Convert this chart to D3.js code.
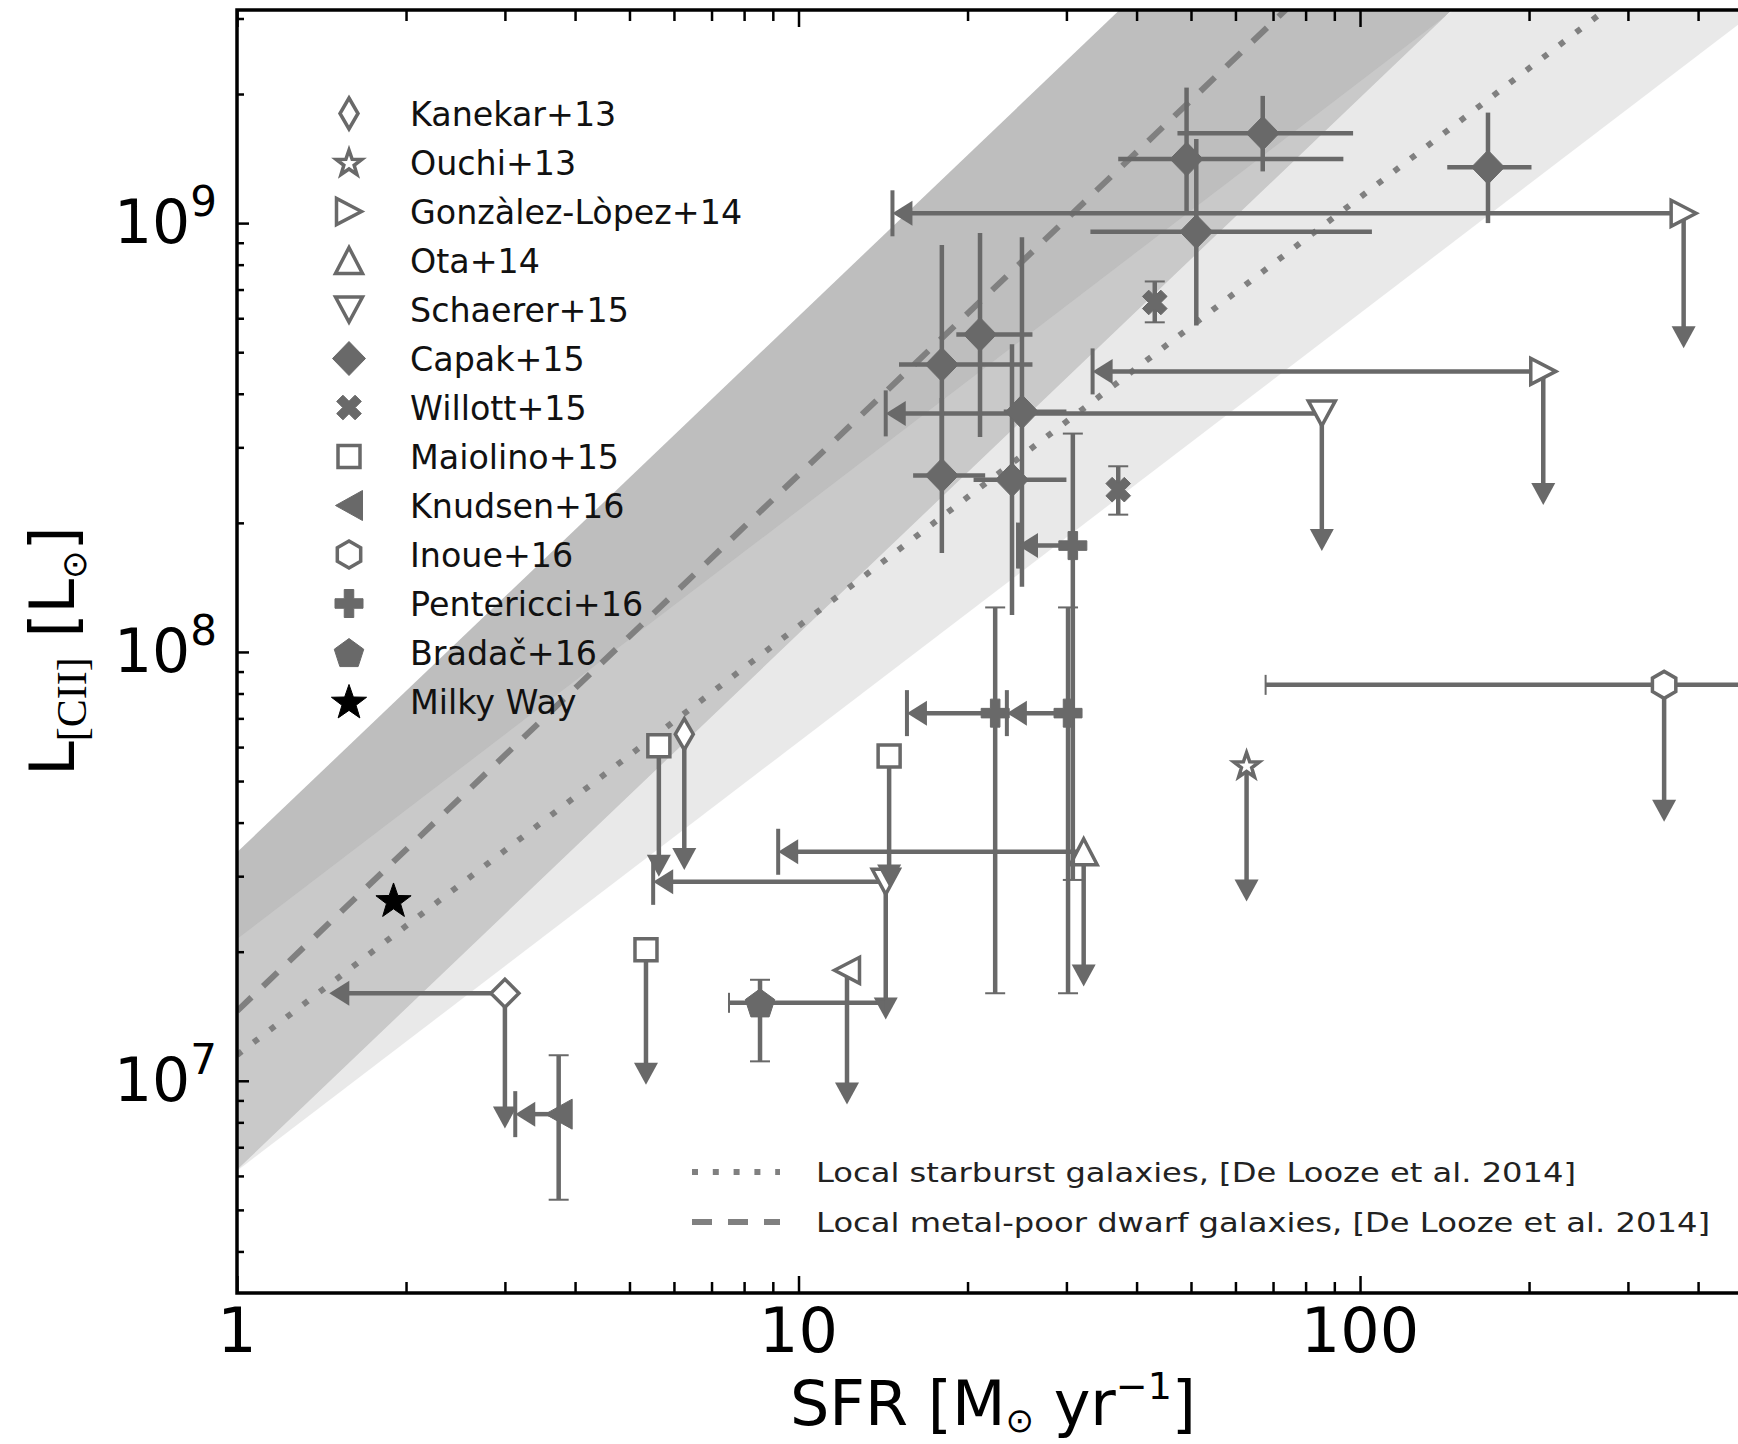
<!DOCTYPE html>
<html>
<head>
<meta charset="utf-8">
<script src="https://cdn.jsdelivr.net/npm/d3@7"></script>
<style>
body { margin: 0; background: #fff; }
svg { display: block; }
text { font-family: "DejaVu Sans", sans-serif; }
</style>
</head>
<body>
<div id="chart"></div>
<script>
var WIDTH = 1738;
var HEIGHT = 1444;
var LEFT = 237, RIGHT = 1752.5, TOP = 10, BOTTOM = 1293;
var GREY = "#696969";
var LINE_GREY = "#808080";

// axis ranges and tick labels
var X_DOMAIN = [1, 500];
var Y_DOMAIN = [3.2e6, 3.14e9];
var X_LABELS = [1, 10, 100];
var Y_EXPONENTS = [7, 8, 9];

// De Looze et al. 2014 relations, values at SFR = 1 and SFR = 500
var relationSfr = [1, 500];
var dwarfLine = [1.454e7, 3.44e10];
var dwarfUpper = [3.41e7, 8.05e10];
var dwarfLower = [6.20e6, 1.466e10];
var starburstLine = [1.148e7, 5.74e9];
var starburstUpper = [2.14e7, 1.07e10];
var starburstLower = [6.17e6, 3.08e9];

// data points (sfr in Msun/yr, L in Lsun); *Lim = upper limit arrow end
var kanekar13 = [
	{sfr: 3.00, L: 1.60e7, sfrLim: 1.46, lLim: 7.74e6},
	{sfr: 6.26, L: 6.43e7, lLim: 3.10e7}
];
var ouchi13 = [
	{sfr: 62.8, L: 5.45e7, lLim: 2.62e7}
];
var gonzalez14 = [
	{sfr: 377, L: 1.054e9, sfrLim: 14.7, lLim: 5.11e8},
	{sfr: 212, L: 4.51e8, sfrLim: 33.4, lLim: 2.20e8}
];
var ota14 = [
	{sfr: 32.2, L: 3.42e7, sfrLim: 9.2, lLim: 1.66e7}
];
var schaerer15 = [
	{sfr: 14.3, L: 2.91e7, sfrLim: 5.51, lLim: 1.39e7},
	{sfr: 85.5, L: 3.60e8, sfrLim: 14.3, lLim: 1.72e8}
];
var capak15 = [
	{sfr: 18.0, L: 4.68e8, sfrLo: 15.1, sfrHi: 26.1, lLo: 2.46e8, lHi: 8.89e8},
	{sfr: 21.05, L: 5.50e8, sfrLo: 19.1, sfrHi: 26.1, lLo: 3.17e8, lHi: 9.48e8},
	{sfr: 25.0, L: 3.63e8, sfrLo: 23.2, sfrHi: 30.0, lLo: 1.42e8, lHi: 9.27e8},
	{sfr: 18.0, L: 2.58e8, sfrLo: 16.0, sfrHi: 21.5, lLo: 1.70e8, lHi: 3.91e8},
	{sfr: 24.0, L: 2.52e8, sfrLo: 20.5, sfrHi: 30.0, lLo: 1.22e8, lHi: 5.22e8},
	{sfr: 49.1, L: 1.41e9, sfrLo: 37.1, sfrHi: 93.4, lLo: 1.05e9, lHi: 2.07e9},
	{sfr: 51.1, L: 9.55e8, sfrLo: 33.1, sfrHi: 105, lLo: 5.77e8, lHi: 1.57e9},
	{sfr: 67.1, L: 1.62e9, sfrLo: 47.3, sfrHi: 97.2, lLo: 1.32e9, lHi: 1.98e9},
	{sfr: 169, L: 1.35e9, sfrLo: 143, sfrHi: 202, lLo: 1.00e9, lHi: 1.81e9}
];
var willott15 = [
	{sfr: 43.1, L: 6.53e8, lLo: 5.87e8, lHi: 7.31e8},
	{sfr: 37.1, L: 2.39e8, lLo: 2.09e8, lHi: 2.71e8}
];
var maiolino15 = [
	{sfr: 5.64, L: 6.04e7, lLim: 2.99e7},
	{sfr: 14.5, L: 5.72e7, lLim: 2.84e7},
	{sfr: 5.35, L: 2.02e7, lLim: 9.79e6}
];
var knudsen16 = [
	{sfr: 3.74, L: 8.36e6, sfrLim: 3.13, lLo: 5.28e6, lHi: 1.147e7},
	{sfr: 12.2, L: 1.81e7, lLim: 8.8e6}
];
var inoue16 = [
	{sfr: 348, L: 8.38e7, sfrLo: 67.9, sfrHi: 1800, lLim: 4.02e7}
];
var pentericci16 = [
	{sfr: 30.2, L: 7.2e7, sfrLim: 23.5, lLo: 1.60e7, lHi: 1.27e8},
	{sfr: 22.4, L: 7.2e7, sfrLim: 15.6, lLo: 1.60e7, lHi: 1.27e8},
	{sfr: 30.8, L: 1.77e8, sfrLim: 24.6, lLo: 2.94e7, lHi: 3.23e8}
];
var bradac16 = [
	{sfr: 8.54, L: 1.52e7, sfrLo: 7.52, sfrHi: 14.3, lLo: 1.11e7, lHi: 1.72e7}
];
var milkyWay = [
	{sfr: 1.9, L: 2.64e7}
];

var surveyNames = ["Kanekar+13", "Ouchi+13", "Gonzàlez-Lòpez+14", "Ota+14", "Schaerer+15", "Capak+15",
	"Willott+15", "Maiolino+15", "Knudsen+16", "Inoue+16", "Pentericci+16", "Bradač+16", "Milky Way"];
var surveyData = [kanekar13, ouchi13, gonzalez14, ota14, schaerer15, capak15,
	willott15, maiolino15, knudsen16, inoue16, pentericci16, bradac16, milkyWay];

var styles = {
	"Kanekar+13": {shape: "d", w: 18, h: 31, fill: "white", variants: [{shape: "D", w: 28, h: 28}]},
	"Ouchi+13": {shape: "*", w: 27, h: 27, fill: "white"},
	"Gonzàlez-Lòpez+14": {shape: ">", w: 25, h: 26, fill: "white", limitBar: true},
	"Ota+14": {shape: "^", w: 27, h: 26, fill: "white", limitBar: true},
	"Schaerer+15": {shape: "v", w: 27, h: 25, fill: "white", limitBar: true},
	"Capak+15": {shape: "D", w: 33, h: 34, fill: GREY},
	"Willott+15": {shape: "X", w: 26, h: 26, fill: GREY, caps: true},
	"Maiolino+15": {shape: "s", w: 22, h: 22, fill: "white"},
	"Knudsen+16": {shape: "<", w: 27, h: 30, fill: GREY, caps: true, limitBar: true,
		variants: [null, {shape: "<", w: 25, h: 26, fill: "white"}]},
	"Inoue+16": {shape: "h", w: 27, h: 27, fill: "white", caps: true},
	"Pentericci+16": {shape: "P", w: 28, h: 28, fill: GREY, caps: true, limitBar: true},
	"Bradač+16": {shape: "p", w: 31, h: 31, fill: GREY, caps: true},
	"Milky Way": {shape: "*", w: 37, h: 37, fill: "black", stroke: "black"}
};

var x = d3.scaleLog().domain(X_DOMAIN).range([LEFT, RIGHT]);
var y = d3.scaleLog().domain(Y_DOMAIN).range([BOTTOM, TOP]);

var svg = d3.select("#chart").append("svg")
	.attr("width", WIDTH)
	.attr("height", HEIGHT);

svg.append("defs").append("clipPath").attr("id", "plotClip")
	.append("rect")
	.attr("x", LEFT).attr("y", TOP)
	.attr("width", RIGHT - LEFT).attr("height", BOTTOM - TOP);

var plot = svg.append("g").attr("clip-path", "url(#plotClip)");

function band(upper, lower) {
	var pts = [];
	for (var i = 0; i < relationSfr.length; i++) pts.push([x(relationSfr[i]), y(upper[i])]);
	for (var i = relationSfr.length - 1; i >= 0; i--) pts.push([x(relationSfr[i]), y(lower[i])]);
	return "M" + pts.join("L") + "Z";
}

plot.append("path").attr("d", band(dwarfUpper, dwarfLower)).attr("fill", "#bebebe");
plot.append("path").attr("d", band(starburstUpper, starburstLower))
	.attr("fill", "#d3d3d3").attr("fill-opacity", 0.5);

var DOTS = "6,14.8", DASHES = "20,16";
var relLine = d3.line().x((d, i) => x(relationSfr[i])).y(d => y(d));
plot.append("path").attr("d", relLine(starburstLine))
	.attr("fill", "none").attr("stroke", LINE_GREY).attr("stroke-width", 6)
	.attr("stroke-dasharray", DOTS);
plot.append("path").attr("d", relLine(dwarfLine))
	.attr("fill", "none").attr("stroke", LINE_GREY).attr("stroke-width", 6)
	.attr("stroke-dasharray", DASHES);

function markerPath(shape, w, h) {
	var hw = w / 2, hh = h / 2, pts = [];
	if (shape === "D" || shape === "d") pts = [[0, -hh], [hw, 0], [0, hh], [-hw, 0]];
	else if (shape === "s") pts = [[-hw, -hh], [hw, -hh], [hw, hh], [-hw, hh]];
	else if (shape === "^") pts = [[0, -hh], [hw, hh], [-hw, hh]];
	else if (shape === "v") pts = [[-hw, -hh], [hw, -hh], [0, hh]];
	else if (shape === "<") pts = [[-hw, 0], [hw, -hh], [hw, hh]];
	else if (shape === ">") pts = [[hw, 0], [-hw, -hh], [-hw, hh]];
	else if (shape === "h") {
		for (var i = 0; i < 6; i++) {
			var a = Math.PI / 3 * i - Math.PI / 2;
			pts.push([hw * Math.cos(a), hh * Math.sin(a)]);
		}
	} else if (shape === "p") {
		for (var i = 0; i < 5; i++) {
			var a = 2 * Math.PI / 5 * i - Math.PI / 2;
			pts.push([hw * Math.cos(a), hh * Math.sin(a) + hh * 0.1]);
		}
	} else if (shape === "*") {
		for (var i = 0; i < 10; i++) {
			var a = Math.PI / 5 * i - Math.PI / 2;
			var r = i % 2 === 0 ? 1 : 0.4;
			pts.push([hw * r * Math.cos(a), hh * r * Math.sin(a) + hh * 0.08]);
		}
	} else if (shape === "P" || shape === "X") {
		var t = hw * 0.34;
		var base = [[-t, -hw], [t, -hw], [t, -t], [hw, -t], [hw, t], [t, t], [t, hw], [-t, hw], [-t, t], [-hw, t], [-hw, -t], [-t, -t]];
		if (shape === "X") {
			var c = Math.SQRT1_2;
			base = base.map(p => [(p[0] - p[1]) * c, (p[0] + p[1]) * c]);
		}
		pts = base;
	}
	return "M" + pts.map(p => p[0].toFixed(2) + "," + p[1].toFixed(2)).join("L") + "Z";
}

function drawMarker(g, st, cx, cy) {
	var open = st.fill === "white";
	g.append("path")
		.attr("d", markerPath(st.shape, st.w, st.h))
		.attr("transform", "translate(" + cx + "," + cy + ")")
		.attr("fill", st.fill)
		.attr("stroke", st.stroke || GREY)
		.attr("stroke-width", open ? 3.5 : 1)
		.attr("stroke-linejoin", "miter");
}

var LW = 4.5;
function seg(g, x1, y1, x2, y2, w) {
	g.append("line")
		.attr("x1", x1).attr("y1", y1).attr("x2", x2).attr("y2", y2)
		.attr("stroke", GREY).attr("stroke-width", w || LW);
}

surveyNames.forEach(function(name, k) {
	var st = styles[name];
	var g = plot.append("g");
	surveyData[k].forEach(function(p, i) {
		var cx = x(p.sfr), cy = y(p.L);
		if (p.sfrLo) {
			seg(g, x(p.sfrLo), cy, x(p.sfrHi), cy);
			if (st.caps) {
				seg(g, x(p.sfrLo), cy - 10, x(p.sfrLo), cy + 10, 2);
				seg(g, x(p.sfrHi), cy - 10, x(p.sfrHi), cy + 10, 2);
			}
		}
		if (p.lLo) {
			seg(g, cx, y(p.lLo), cx, y(p.lHi));
			if (st.caps) {
				seg(g, cx - 10, y(p.lLo), cx + 10, y(p.lLo), 2);
				seg(g, cx - 10, y(p.lHi), cx + 10, y(p.lHi), 2);
			}
		}
		if (p.sfrLim) {
			var tx = x(p.sfrLim);
			seg(g, cx, cy, tx + 18, cy);
			g.append("path").attr("d", "M" + tx + "," + cy + "l20,-12.5l0,25Z").attr("fill", GREY);
			if (st.limitBar) seg(g, tx, cy - 23, tx, cy + 23, 4);
		}
		if (p.lLim) {
			var ty = y(p.lLim);
			seg(g, cx, cy, cx, ty - 18);
			g.append("path").attr("d", "M" + cx + "," + ty + "l-12,-22l24,0Z").attr("fill", GREY);
		}
	});
	surveyData[k].forEach(function(p, i) {
		var v = st.variants && st.variants[i];
		drawMarker(g, v ? Object.assign({}, st, v) : st, x(p.sfr), y(p.L));
	});
});

// axes: ticks point inward
var xMajor = [1, 10, 100];
var xMinor = [];
[1, 10, 100].forEach(function(d) {
	for (var m = 2; m <= 9; m++) if (d * m <= 500) xMinor.push(d * m);
});
var yMajor = [1e7, 1e8, 1e9];
var yMinor = [];
[1e6, 1e7, 1e8, 1e9].forEach(function(d) {
	for (var m = 2; m <= 9; m++) if (d * m >= Y_DOMAIN[0] && d * m <= Y_DOMAIN[1]) yMinor.push(d * m);
});

function tickAxis(axis, scale, values, size, transform) {
	var g = svg.append("g").attr("transform", transform)
		.call(axis(scale).tickValues(values).tickSize(size).tickSizeOuter(0).tickFormat(""));
	g.select(".domain").remove();
	g.selectAll(".tick line").attr("stroke", "#000").attr("stroke-width", 2.5);
}
tickAxis(d3.axisBottom, x, xMajor, -17, "translate(0," + BOTTOM + ")");
tickAxis(d3.axisBottom, x, xMinor, -11, "translate(0," + BOTTOM + ")");
tickAxis(d3.axisTop, x, xMajor, -17, "translate(0," + TOP + ")");
tickAxis(d3.axisTop, x, xMinor, -11, "translate(0," + TOP + ")");
tickAxis(d3.axisLeft, y, yMajor, -12, "translate(" + LEFT + ",0)");
tickAxis(d3.axisLeft, y, yMinor, -7, "translate(" + LEFT + ",0)");

// spines
svg.append("rect")
	.attr("x", LEFT).attr("y", TOP)
	.attr("width", RIGHT - LEFT).attr("height", BOTTOM - TOP)
	.attr("fill", "none").attr("stroke", "#000").attr("stroke-width", 3.5);

// tick labels
svg.selectAll(".xlab").data(X_LABELS).enter().append("text")
	.attr("x", d => x(d)).attr("y", 1352)
	.attr("text-anchor", "middle").attr("font-size", 62)
	.text(d => d);

Y_EXPONENTS.forEach(function(e) {
	var t = svg.append("text")
		.attr("x", 217).attr("y", y(Math.pow(10, e)) + 20)
		.attr("text-anchor", "end").attr("font-size", 60);
	t.append("tspan").text("10");
	t.append("tspan").attr("font-size", 42).attr("dy", -27).text(e);
});

// axis titles
var xt = svg.append("text").attr("x", 993).attr("y", 1425)
	.attr("text-anchor", "middle").attr("font-size", 62);
xt.append("tspan").text("SFR [M");
xt.append("tspan").attr("font-size", 34).attr("dy", 7).text("⊙");
xt.append("tspan").attr("dy", -7).text(" yr");
xt.append("tspan").attr("font-size", 38).attr("dy", -26).text("−1");
xt.append("tspan").attr("dy", 26).text("]");

var yt = svg.append("text")
	.attr("transform", "translate(74,651) rotate(-90)")
	.attr("text-anchor", "middle").attr("font-size", 62);
yt.append("tspan").text("L");
yt.append("tspan").attr("font-family", "Liberation Serif, serif").attr("font-size", 42).attr("dy", 12).text("[CII]");
yt.append("tspan").attr("dy", -12).text(" [L");
yt.append("tspan").attr("font-size", 34).attr("dy", 12).text("⊙");
yt.append("tspan").attr("dy", -12).text("]");

// survey legend
var legend = svg.append("g");
surveyNames.forEach(function(name, i) {
	var cy = 113.5 + i * 49.0;
	drawMarker(legend, styles[name], 349, cy);
	legend.append("text")
		.attr("x", 410).attr("y", cy + 12.3)
		.attr("font-size", 33.3).attr("fill", "#111")
		.text(name);
});

// relation legend
var relNames = ["Local starburst galaxies, [De Looze et al. 2014]",
	"Local metal-poor dwarf galaxies, [De Looze et al. 2014]"];
var relDash = [DOTS, DASHES];
var relWidth = [760, 894];
relNames.forEach(function(name, i) {
	var cy = 1172 + i * 50;
	svg.append("line")
		.attr("x1", 692).attr("x2", 780).attr("y1", cy).attr("y2", cy)
		.attr("stroke", LINE_GREY).attr("stroke-width", 6)
		.attr("stroke-dasharray", relDash[i]);
	svg.append("text")
		.attr("x", 816).attr("y", cy + 9.5)
		.attr("font-size", 27).attr("fill", "#222")
		.attr("textLength", relWidth[i]).attr("lengthAdjust", "spacingAndGlyphs")
		.text(name);
});
</script>
</body>
</html>
